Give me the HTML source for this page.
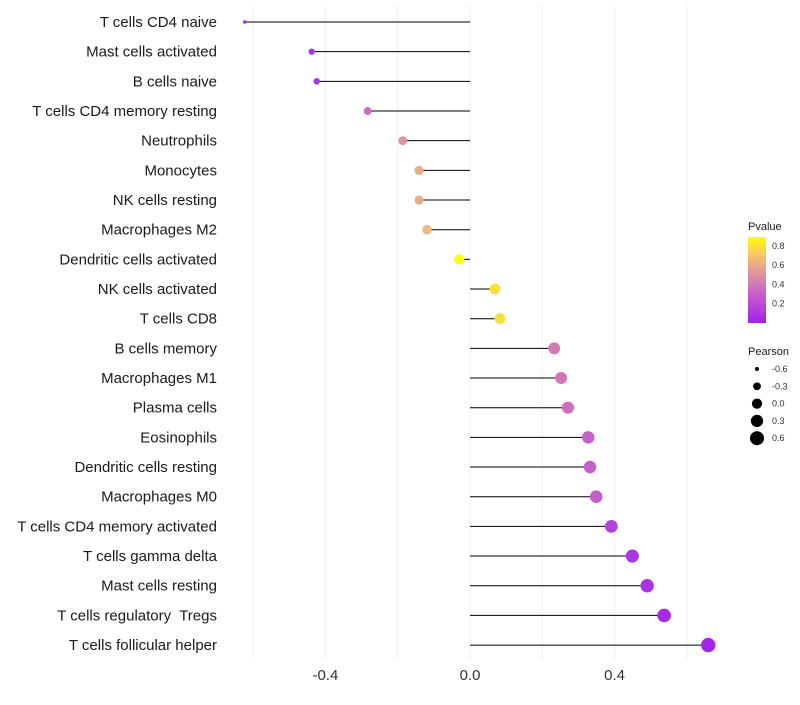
<!DOCTYPE html>
<html><head><meta charset="utf-8"><style>
body{margin:0;background:#fff;font-family:"Liberation Sans",sans-serif}
text{white-space:pre}
</style></head><body>
<svg id="chart" width="800" height="700" xmlns="http://www.w3.org/2000/svg" font-family="Liberation Sans, sans-serif">
<defs><linearGradient id="pg" x1="0" y1="1" x2="0" y2="0">
<stop offset="0" stop-color="#a020f0"/><stop offset="0.35" stop-color="#c863c8"/><stop offset="0.6" stop-color="#e39a98"/><stop offset="0.8" stop-color="#f6c865"/><stop offset="1" stop-color="#ffff00"/></linearGradient></defs>
<g id="grid"></g><g id="marks"></g><g id="labels"></g><g id="legend"></g>
</svg>
<script>
const categories=["T cells CD4 naive","Mast cells activated","B cells naive","T cells CD4 memory resting","Neutrophils","Monocytes","NK cells resting","Macrophages M2","Dendritic cells activated","NK cells activated","T cells CD8","B cells memory","Macrophages M1","Plasma cells","Eosinophils","Dendritic cells resting","Macrophages M0","T cells CD4 memory activated","T cells gamma delta","Mast cells resting","T cells regulatory  Tregs","T cells follicular helper"];
const pearson=[-0.623,-0.438,-0.424,-0.283,-0.186,-0.141,-0.141,-0.119,-0.030,0.069,0.083,0.233,0.252,0.271,0.327,0.332,0.349,0.391,0.449,0.490,0.537,0.659];
const pvalue=[0.03,0.1,0.1,0.35,0.52,0.62,0.62,0.66,0.92,0.8,0.8,0.4,0.38,0.35,0.28,0.28,0.27,0.15,0.1,0.08,0.05,0.02];
const xTicks=[-0.4,0,0.4];
const xGrid=[-0.6,-0.4,-0.2,0,0.2,0.4,0.6];
const pTicks=[0.2,0.4,0.6,0.8];
const sizeVals=[-0.6,-0.3,0.0,0.3,0.6];
const NS="http://www.w3.org/2000/svg";
const X=v=>470+v*361.5;
const Y=i=>22+i*29.67;
const R=v=>Math.max(1.5,Math.sqrt(Math.max(0,4+(v+0.6)*37.5)));
const PY=p=>323-p*96.5;
function col(p){const s=[[0,[160,32,240]],[0.3,[200,99,200]],[0.55,[227,154,152]],[0.72,[246,200,101]],[0.9,[255,255,0]]];
 if(p>=0.9)return"rgb(255,255,0)";for(let k=0;k<s.length-1;k++){if(p<=s[k+1][0]){const t=(p-s[k][0])/(s[k+1][0]-s[k][0]);const a=s[k][1],b=s[k+1][1];return`rgb(${a.map((c,j)=>Math.round(c+(b[j]-c)*t)).join(",")})`;}}}
function mk(tag,at,parent,txt){const e=document.createElementNS(NS,tag);for(const k in at)e.setAttribute(k,at[k]);if(txt!==undefined)e.textContent=txt;document.getElementById(parent).appendChild(e);return e;}
xGrid.forEach(v=>{const e=mk("line",{x1:X(v),x2:X(v),y1:5,y2:660,stroke:"#efefef","stroke-width":1},"grid");

});
xTicks.forEach(v=>{const e=mk("text",{x:X(v),y:680,"text-anchor":"middle","font-size":15,fill:"#333"},"labels",v===0?"0.0":v.toFixed(1));

});
categories.forEach((c,i)=>{
 const t=mk("text",{x:217,y:Y(i)+5,"text-anchor":"end","font-size":15,fill:"#1a1a1a"},"labels",c);
 
 
 const l=mk("line",{x1:X(0),x2:X(pearson[i]),y1:Y(i),y2:Y(i),stroke:"#000","stroke-width":1},"marks");
 
 
 const d=mk("circle",{cx:X(pearson[i]),cy:Y(i),r:R(pearson[i]),fill:col(pvalue[i])},"marks");
 
 
});
let e=mk("text",{x:748,y:230,"font-size":11,fill:"#1a1a1a"},"legend","Pvalue");


e=mk("rect",{x:748,y:237,width:18,height:86,fill:"url(#pg)"},"legend");


pTicks.forEach(p=>{const t=mk("text",{x:772,y:PY(p)+3,"font-size":9,fill:"#333"},"legend",p.toFixed(1));

});
e=mk("text",{x:748,y:355,"font-size":11,fill:"#1a1a1a"},"legend","Pearson");


sizeVals.forEach((v,k)=>{const y=369+k*17.3;
 const c=mk("circle",{cx:757,cy:y,r:R(v),fill:"#000"},"legend");
 
 
 const t=mk("text",{x:772,y:y+3,"font-size":9,fill:"#333"},"legend",v.toFixed(1));
 
 });
</script>
</body></html>
